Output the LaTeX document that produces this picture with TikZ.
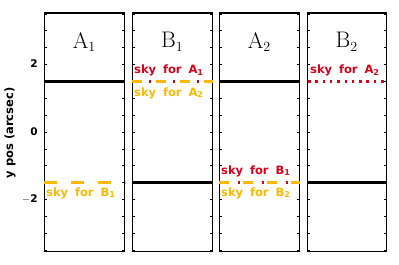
\documentclass[tikz,border=0pt]{standalone}
\usepackage{fontspec}
\newfontfamily\labfont{DejaVu Sans}
\definecolor{skyred}{RGB}{218,0,24}
\definecolor{skyorange}{RGB}{255,184,0}
\newcommand{\sk}[2]{sky\hspace{0.6em}for\hspace{0.6em}#1\textsubscript{#2}}
\newcommand{\ttl}[2]{#1\raisebox{-3.5pt}{\fontsize{14}{14}\selectfont #2}}
\begin{document}
\begin{tikzpicture}[x=1pt,y=-1pt,
  frame/.style={draw=black,line width=1.3pt},
  tickmark/.style={black,line width=0.6pt},
  objline/.style={black,line width=2.8pt},
  orangedash/.style={skyorange,line width=2.8pt,dash pattern=on 13pt off 14pt},
  orangedd/.style={skyorange,line width=2.8pt,dash pattern=on 9.5pt off 14.5pt},
  reddots/.style={skyred,line width=2.6pt,dash pattern=on 2.4pt off 21.6pt},
  reddotted/.style={skyred,line width=2.6pt,dash pattern=on 2.5pt off 4.8pt},
  title/.style={font=\fontsize{22.5}{22.5}\selectfont,inner sep=0pt},
  lab/.style={font=\labfont\bfseries\fontsize{11.5}{11.5}\selectfont,inner sep=0pt,anchor=west},
  ticklab/.style={font=\labfont\bfseries\fontsize{10.5}{10.5}\selectfont,inner sep=0pt,anchor=east},
]
\useasboundingbox (0,0) rectangle (399,265);
% panels
\foreach \l/\r/\n in {44/124/pa,132/212/pb,219/299/pc,307/386/pd}{
  \node[frame,inner sep=0pt,minimum width={\r-\l},minimum height=238.7pt,anchor=north west] (\n) at (\l,12.3) {};
  \foreach \v in {-3.5,-3,...,3.5}{
    \draw[tickmark] (\l,{132-33.75*\v}) -- ++(2.5,0);
    \draw[tickmark] (\r,{132-33.75*\v}) -- ++(-2.5,0);
  }
}
% titles
\node[title] (ta) at (84,42) {\ttl{A}{1}};
\node[title] (tb) at (172,42) {\ttl{B}{1}};
\node[title] (tc) at (259,42) {\ttl{A}{2}};
\node[title] (td) at (346.5,42) {\ttl{B}{2}};
% axis
\node[ticklab] (y2) at (38,64) {2};
\node[ticklab] (y0) at (38,132) {0};
\node[ticklab] (ym2) at (38,199.5) {$-$2};
\node[font=\labfont\bfseries\fontsize{11.5}{11.5}\selectfont,rotate=90,inner sep=0pt] (ylab) at (10,133) {y pos (arcsec)};
% panel A1
\draw[objline] (pa.west |- 0,81.4) -- (pa.east |- 0,81.4);
\draw[orangedash] (pa.west |- 0,182.6) -- (pa.east |- 0,182.6);
\node[lab,text=skyorange] (la) at (46,193) {\sk{B}{1}};
% panel B1
\draw[objline] (pb.west |- 0,182.6) -- (pb.east |- 0,182.6);
\draw[orangedd] (pb.west |- 0,81.4) -- (pb.east |- 0,81.4);
\draw[reddots] (149,81.4) -- (pb.east |- 0,81.4);
\node[lab,text=skyred] (lb1) at (134,70.5) {\sk{A}{1}};
\node[lab,text=skyorange] (lb2) at (134,93) {\sk{A}{2}};
% panel A2
\draw[objline] (pc.west |- 0,81.4) -- (pc.east |- 0,81.4);
\draw[orangedd] (pc.west |- 0,182.6) -- (pc.east |- 0,182.6);
\draw[reddots] (238,182.6) -- (pc.east |- 0,182.6);
\node[lab,text=skyred] (lc1) at (221,171) {\sk{B}{1}};
\node[lab,text=skyorange] (lc2) at (221,193) {\sk{B}{2}};
% panel B2
\draw[objline] (pd.west |- 0,182.6) -- (pd.east |- 0,182.6);
\draw[reddotted] (308,81.4) -- (pd.east |- 0,81.4);
\node[lab,text=skyred] (ld1) at (310,70.5) {\sk{A}{2}};
\end{tikzpicture}
\end{document}
